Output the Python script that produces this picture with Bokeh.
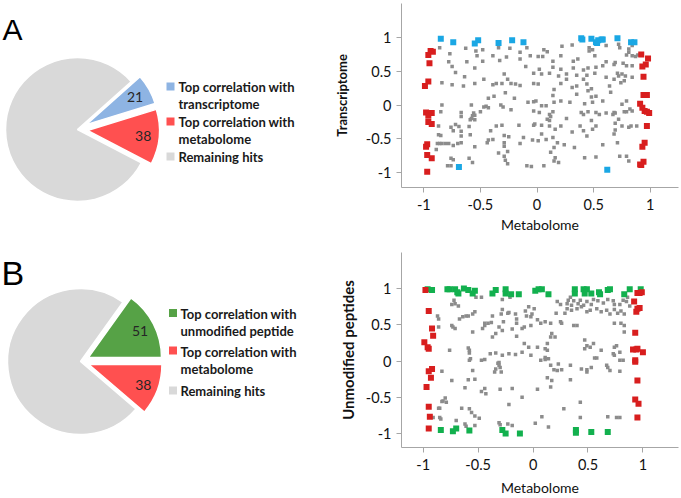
import math
from bokeh.plotting import figure
from bokeh.layouts import row, column
from bokeh.models import Range1d, FixedTicker
from bokeh.core.properties import value
from bokeh.embed import file_html
from bokeh.resources import INLINE

# ---------------- data ----------------
pie_a_values = [21, 38, 248]
pie_a_colors = ["#8EB4E3", "#FF5050", "#D9D9D9"]
pie_a_legend = [["Top correlation with", "transcriptome"],
                ["Top correlation with", "metabolome"],
                ["Remaining hits"]]

pie_b_values = [51, 38, 248]
pie_b_colors = ["#56A246", "#FF5050", "#D9D9D9"]
pie_b_legend = [["Top correlation with", "unmodified peptide"],
                ["Top correlation with", "metabolome"],
                ["Remaining hits"]]

tick_values = [-1, -0.5, 0, 0.5, 1]
tick_labels = ["-1", "-0.5", "0", "0.5", "1"]

# Panel A scatter: metabolome (x) vs transcriptome (y)
a_gray = [
    (-0.86, 0.85), (-0.77, 0.76), (-0.63, 0.84), (-0.54, 0.80), (-0.48, 0.82), (-0.34, 0.85), (-0.24, 0.84),
    (-0.09, 0.85), (-0.53, 0.73), (-0.39, 0.73), (-0.27, 0.71), (-0.15, 0.78), (-0.06, 0.73),
    (-0.78, 0.64), (-0.62, 0.64), (-0.48, 0.65), (-0.33, 0.66), (-0.15, 0.68), (-0.75, 0.57), (-0.55, 0.55),
    (-0.72, 0.48), (-0.29, 0.46), (-0.10, 0.57), (-0.03, 0.47), (-0.64, 0.42), (-0.26, 0.38), (-0.47, 0.38),
    (-0.84, 0.33), (-0.75, 0.30), (-0.65, 0.28), (-0.55, 0.32), (-0.39, 0.30), (-0.36, 0.32), (-0.31, 0.32),
    (-0.23, 0.32), (-0.19, 0.31), (-0.15, 0.29), (-0.03, 0.32),
    (-0.28, 0.18), (-0.43, 0.10), (-0.38, 0.13), (-0.20, 0.10), (-0.08, 0.04), (-0.03, 0.05),
    (-0.84, 0.00), (-0.58, 0.00), (-0.47, -0.03), (-0.45, -0.02), (-0.43, -0.04), (-0.50, -0.10), (-0.32, 0.00),
    (-0.30, -0.03), (-0.23, -0.07), (-0.85, -0.10), (-0.67, -0.11), (-0.67, -0.17), (-0.56, -0.12), (-0.57, -0.16),
    (-0.58, -0.20), (-0.59, -0.22), (-0.55, -0.15), (-0.03, -0.09),
    (-0.87, -0.31), (-0.76, -0.33), (-0.72, -0.29), (-0.69, -0.32), (-0.74, -0.38), (-0.67, -0.39), (-0.60, -0.32),
    (-0.55, -0.22), (-0.41, -0.38), (-0.36, -0.31), (-0.31, -0.30), (-0.16, -0.30), (-0.03, -0.30), (-0.67, -0.46),
    (-0.59, -0.44), (-0.87, -0.44), (-0.85, -0.45), (-0.43, -0.52), (-0.39, -0.51), (-0.29, -0.45), (-0.25, -0.47),
    (-0.12, -0.48), (-0.04, -0.52), (-0.44, -0.56), (-0.29, -0.56), (-0.29, -0.61), (-0.15, -0.57), (-0.88, -0.57),
    (-0.86, -0.57), (-0.84, -0.57), (-0.81, -0.57), (-0.78, -0.57), (-0.74, -0.60), (-0.70, -0.57), (-0.67, -0.56),
    (-0.55, -0.62), (-0.89, -0.66), (-0.34, -0.71), (-0.26, -0.69), (-0.76, -0.79), (-0.74, -0.81), (-0.60, -0.79),
    (-0.57, -0.85), (-0.29, -0.76), (-0.28, -0.82), (-0.26, -0.87), (-0.79, -0.90), (-0.76, -0.90), (-0.09, -0.90),
    (-0.05, -0.91),
    (0.06, 0.82), (0.09, 0.79), (0.22, 0.87), (0.31, 0.89), (0.46, 0.85), (0.49, 0.82), (0.46, 0.80), (0.51, 0.73),
    (0.61, 0.88), (0.72, 0.90), (0.73, 0.85), (0.81, 0.83), (0.84, 0.88), (0.81, 0.78), (0.69, 0.63), (0.79, 0.74),
    (0.84, 0.73), (0.87, 0.72), (0.89, 0.74), (0.01, 0.72), (0.05, 0.72), (0.14, 0.65), (0.21, 0.73), (0.32, 0.65),
    (0.36, 0.68), (0.61, 0.64), (0.68, 0.60), (0.76, 0.62), (0.79, 0.58), (0.84, 0.58),
    (0.02, 0.53), (0.14, 0.56), (0.21, 0.53), (0.32, 0.55), (0.41, 0.52), (0.45, 0.55), (0.52, 0.56), (0.58, 0.58),
    (0.04, 0.46), (0.11, 0.47), (0.19, 0.43), (0.26, 0.46), (0.35, 0.44), (0.44, 0.44), (0.51, 0.47), (0.61, 0.41),
    (0.71, 0.47), (0.72, 0.43), (0.75, 0.46), (0.78, 0.43), (0.84, 0.41), (0.68, 0.38),
    (0.01, 0.31), (0.15, 0.23), (0.21, 0.32), (0.26, 0.38), (0.31, 0.26), (0.35, 0.28), (0.41, 0.38), (0.44, 0.31),
    (0.45, 0.21), (0.48, 0.24), (0.52, 0.13), (0.64, 0.28), (0.65, 0.19), (0.74, 0.33), (0.77, 0.36),
    (-0.01, 0.06), (0.04, -0.01), (0.08, -0.01), (0.14, 0.14), (0.15, 0.04), (0.21, 0.06), (0.29, 0.04), (0.35, 0.16),
    (0.42, 0.02), (0.48, 0.12), (0.49, 0.04), (0.58, 0.06), (0.75, 0.01), (0.79, 0.06), (0.84, -0.09), (0.14, -0.10),
    (0.11, -0.14), (0.12, -0.17), (0.09, -0.21), (0.11, -0.23), (0.02, -0.11), (0.39, -0.11), (0.41, -0.14),
    (0.45, -0.10), (0.48, -0.23), (0.52, -0.11), (0.55, -0.14), (0.61, -0.12), (0.67, -0.14), (0.68, -0.11),
    (0.69, -0.12), (0.72, -0.21), (0.77, -0.10), (0.79, -0.10), (0.82, -0.06), (0.26, -0.20),
    (-0.02, -0.28), (0.04, -0.30), (0.11, -0.31), (0.16, -0.36), (0.21, -0.31), (0.31, -0.40), (0.38, -0.31),
    (0.41, -0.38), (0.44, -0.46), (0.49, -0.36), (0.52, -0.31), (0.69, -0.27), (0.69, -0.37), (0.68, -0.43),
    (0.75, -0.31), (0.81, -0.33), (0.83, -0.31), (0.88, -0.31), (0.04, -0.43), (0.14, -0.48), (0.18, -0.56),
    (0.08, -0.51), (0.01, -0.53), (0.12, -0.70), (0.15, -0.63), (0.24, -0.59), (0.33, -0.63), (0.16, -0.78),
    (0.19, -0.85), (0.15, -0.83), (0.42, -0.78), (0.52, -0.77), (0.58, -0.59), (0.71, -0.56), (0.73, -0.76),
    (0.79, -0.76), (0.81, -0.83), (0.06, -0.90),
]
a_blue = [
    (-0.85, 0.98), (-0.74, 0.93), (-0.55, 0.91), (-0.52, 0.96), (-0.34, 0.92), (-0.22, 0.96), (-0.12, 0.93),
    (-0.69, -0.92), (0.39, 0.99), (0.40, 0.97), (0.48, 0.98), (0.52, 0.93), (0.54, 0.96), (0.57, 0.97),
    (0.58, 0.97), (0.53, 0.92), (0.71, 0.99), (0.83, 0.93), (0.86, 0.93), (0.62, -0.96),
]
a_red = [
    (-0.94, 0.80), (-0.92, 0.79), (-0.96, 0.74), (-0.95, 0.62), (-0.96, 0.35), (-0.99, 0.28), (-0.98, -0.11),
    (-0.93, -0.12), (-0.96, -0.16), (-0.96, -0.25), (-0.93, -0.28), (-0.97, -0.58), (-0.98, -0.62),
    (-0.97, -0.74), (-0.93, -0.79), (-0.97, -0.99),
    (0.92, 0.75), (0.98, 0.69), (0.96, 0.60), (0.93, 0.57), (0.94, 0.42), (0.94, 0.15), (0.97, 0.15),
    (0.91, 0.02), (0.93, -0.04), (0.95, -0.09), (0.97, -0.10), (0.99, -0.12), (0.97, -0.31), (0.95, -0.56),
    (0.93, -0.62), (0.94, -0.84), (0.92, -0.89), (0.91, -0.88),
]

# Panel B scatter: metabolome (x) vs unmodified peptides (y)
b_gray = [
    (-0.72, 0.84), (-0.71, 0.79), (-0.68, 0.76), (-0.74, 0.78), (-0.52, 0.88), (-0.47, 0.88), (-0.28, 0.85),
    (-0.21, 0.88), (-0.87, 0.62), (-0.86, 0.58), (-0.67, 0.58), (-0.64, 0.61), (-0.61, 0.62), (-0.59, 0.62),
    (-0.55, 0.65), (-0.53, 0.68), (-0.44, 0.52), (-0.41, 0.52), (-0.38, 0.53), (-0.37, 0.62), (-0.29, 0.65),
    (-0.28, 0.71), (-0.23, 0.66), (-0.22, 0.67), (-0.16, 0.65), (-0.15, 0.58), (-0.15, 0.52), (-0.07, 0.69),
    (-0.06, 0.62), (-0.86, 0.47), (-0.74, 0.49), (-0.73, 0.47), (-0.71, 0.45), (-0.55, 0.40), (-0.46, 0.45),
    (-0.44, 0.49), (-0.34, 0.38), (-0.37, 0.33), (-0.31, 0.47), (-0.28, 0.42), (-0.27, 0.54), (-0.19, 0.44),
    (-0.15, 0.34), (-0.10, 0.45), (-0.08, 0.47), (-0.76, 0.15), (-0.59, 0.18), (-0.58, 0.15), (-0.58, 0.11),
    (-0.58, 0.01), (-0.57, 0.03), (-0.55, -0.13), (-0.47, 0.01), (-0.44, 0.02), (-0.39, 0.10), (-0.34, 0.11),
    (-0.31, -0.02), (-0.28, 0.08), (-0.22, 0.10), (-0.16, 0.09), (-0.10, 0.12), (-0.08, 0.24), (-0.32, -0.03),
    (-0.31, -0.06), (-0.30, -0.09), (-0.34, -0.11), (-0.35, -0.15), (-0.29, -0.15), (-0.83, -0.14),
    (-0.74, -0.27), (-0.59, -0.26), (-0.53, -0.25), (-0.62, -0.37), (-0.47, -0.42), (-0.44, -0.38),
    (-0.43, -0.45), (-0.30, -0.39), (-0.19, -0.38), (-0.10, -0.50), (-0.22, -0.60), (-0.80, -0.51),
    (-0.82, -0.55), (-0.83, -0.56), (-0.79, -0.57), (-0.86, -0.65), (-0.85, -0.65), (-0.65, -0.65),
    (-0.58, -0.66), (-0.56, -0.71), (-0.53, -0.76), (-0.49, -0.79), (-0.91, -0.78), (-0.85, -0.78),
    (-0.84, -0.80), (-0.70, -0.82), (-0.62, -0.87), (-0.61, -0.90), (-0.53, -0.89), (-0.31, -0.85),
    (-0.30, -0.88), (-0.23, -0.87), (-0.19, -0.89),
    (0.22, 0.82), (0.25, 0.78), (0.32, 0.84), (0.34, 0.88), (0.37, 0.83), (0.31, 0.79), (0.35, 0.77), (0.41, 0.79),
    (0.43, 0.84), (0.46, 0.77), (0.49, 0.82), (0.53, 0.78), (0.55, 0.85), (0.59, 0.83), (0.64, 0.80), (0.68, 0.85),
    (0.73, 0.83), (0.74, 0.78), (0.79, 0.78), (0.82, 0.84), (0.85, 0.82), (0.86, 0.88), (0.88, 0.76), (0.31, 0.72),
    (0.35, 0.70), (0.40, 0.72), (0.44, 0.75), (0.49, 0.68), (0.52, 0.70), (0.58, 0.72), (0.62, 0.68), (0.67, 0.70),
    (0.70, 0.65), (0.74, 0.71), (0.77, 0.66), (0.80, 0.69), (0.83, 0.65), (-0.04, 0.75), (-0.01, 0.65),
    (0.01, 0.72), (-0.02, 0.61), (0.21, 0.66), (0.29, 0.66), (0.26, 0.52), (0.04, 0.57), (0.07, 0.52),
    (0.11, 0.54), (0.16, 0.52), (0.25, 0.54), (0.37, 0.49), (0.40, 0.49), (0.74, 0.52), (0.80, 0.52),
    (0.83, 0.49), (0.83, 0.40), (-0.02, 0.49), (0.17, 0.38), (0.16, 0.33), (0.20, 0.33), (0.13, 0.24),
    (0.11, 0.17), (0.13, 0.15), (0.07, 0.01), (0.11, 0.05), (0.11, 0.02), (0.14, 0.03), (-0.04, 0.19),
    (-0.02, 0.08), (0.04, 0.19), (0.47, 0.29), (0.49, 0.21), (0.52, 0.19), (0.47, 0.17), (0.55, 0.24),
    (0.62, 0.15), (0.56, 0.04), (0.58, 0.04), (0.74, 0.19), (0.76, 0.21), (0.73, 0.10), (0.74, 0.08),
    (0.79, 0.12), (0.79, 0.01), (0.82, 0.01), (0.16, -0.06), (0.19, -0.12), (0.22, -0.13), (0.23, -0.04),
    (0.26, -0.12), (0.34, -0.06), (0.44, -0.11), (0.49, -0.12), (0.49, -0.15), (0.53, -0.09), (0.67, -0.06),
    (0.68, -0.09), (0.70, -0.13), (0.79, -0.14), (0.13, -0.23), (0.17, -0.27), (0.34, -0.26), (0.04, -0.39),
    (0.16, -0.36), (0.43, -0.57), (0.28, -0.66), (0.08, -0.77), (0.43, -0.78), (0.68, -0.77), (0.76, -0.78),
    (0.79, -0.78), (0.02, -0.86), (0.14, -0.91),
]
b_green = [
    (-0.96, 0.99), (-0.92, 0.98), (-0.78, 0.99), (-0.76, 0.99), (-0.71, 0.99), (-0.69, 0.95), (-0.68, 0.93),
    (-0.63, 1.00), (-0.59, 0.98), (-0.55, 0.93), (-0.53, 0.97), (-0.37, 0.93), (-0.34, 0.98), (-0.25, 0.99),
    (-0.25, 0.93), (-0.20, 0.92), (-0.13, 0.92), (0.02, 0.97), (0.05, 0.99), (0.08, 0.99), (0.14, 0.92),
    (0.38, 0.99), (0.38, 0.93), (0.46, 0.99), (0.49, 0.99), (0.47, 0.93), (0.53, 0.93), (0.60, 0.95),
    (0.61, 0.92), (0.68, 0.98), (0.70, 0.99), (0.83, 0.92), (0.88, 0.99), (0.98, 0.99),
    (-0.84, -0.95), (-0.73, -0.97), (-0.70, -0.93), (-0.58, -0.96), (-0.28, -0.95), (-0.25, -1.00),
    (-0.12, -1.00), (0.39, -0.95), (0.39, -0.99), (0.53, -0.98), (0.68, -0.98),
]
b_red = [
    (-0.98, 0.98), (-0.95, 0.69), (-0.92, 0.45), (-0.91, 0.35), (-0.99, 0.26), (-0.96, 0.19), (-0.95, 0.17),
    (-0.95, -0.14), (-0.92, -0.11), (-0.93, -0.23), (-0.97, -0.36), (-0.95, -0.63), (-0.94, -0.77),
    (-0.95, -0.93),
    (0.95, 0.94), (0.97, 0.94), (0.99, 0.95), (0.92, 0.82), (0.94, 0.68), (0.95, 0.72), (0.97, 0.73),
    (0.93, 0.39), (0.91, 0.16), (0.94, 0.16), (0.95, 0.17), (1.00, 0.12), (0.93, 0.01), (0.93, -0.01),
    (0.95, -0.27), (0.93, -0.53), (0.96, -0.59), (0.95, -0.78),
]

FONT = "Lato"


def xs(pts):
    return [p[0] for p in pts]


def ys(pts):
    return [p[1] for p in pts]


def make_pie(width, height, top, vals, colors, legend, boundary, center, radius, explode,
             label_r, sq_x, sq_ys, text_x, line_ys, letter, letter_xy, letter_size):
    # data x = page pixel column, data y = -(page pixel row)
    p = figure(width=width, height=height,
               x_range=Range1d(0, width), y_range=Range1d(-(top + height), -top),
               output_backend="svg", toolbar_location=None, min_border=0,
               x_axis_location=None, y_axis_location=None)
    p.grid.visible = False
    p.outline_line_color = None
    total = sum(vals)
    a1 = vals[0] / total * 360.0
    a2 = vals[1] / total * 360.0
    spans = [(boundary, boundary + a1), (boundary - a2, boundary), (boundary + a1, boundary - a2 + 360.0)]
    cx, cy = center
    for i in [2, 0, 1]:
        s, e = spans[i]
        mid = math.radians((s + e) / 2.0)
        d = explode if i < 2 else 0
        p.wedge(x=[cx + d * math.cos(mid)], y=[cy + d * math.sin(mid)], radius=radius,
                start_angle=math.radians(s), end_angle=math.radians(e),
                fill_color=colors[i], line_color="white", line_width=1.5)
    for i in range(2):
        s, e = spans[i]
        mid = math.radians((s + e) / 2.0)
        p.text(x=[cx + label_r * math.cos(mid)], y=[cy + label_r * math.sin(mid)], text=[str(vals[i])],
               text_font=value(FONT), text_font_size="14px", text_align="center",
               text_baseline="middle", text_color="#262626")
    # legend
    p.rect(x=[sq_x] * 3, y=[-v for v in sq_ys], width=8, height=8, fill_color=colors,
           line_color=None)
    k = 0
    lx, ly, lt = [], [], []
    for item in legend:
        for line in item:
            lx.append(text_x)
            ly.append(-line_ys[k])
            lt.append(line)
            k += 1
    p.text(x=lx, y=ly, text=lt, text_font=value(FONT), text_font_size="13px",
           text_font_style="bold", text_baseline="middle", text_color="#1a1a1a")
    p.text(x=[letter_xy[0]], y=[-letter_xy[1]], text=[letter], text_font=value("Liberation Sans"),
           text_font_size=letter_size, text_baseline="alphabetic", text_color="#000000")
    return p


def make_scatter(height, xr, yr, borders, ylabel, ylabel_size, ylabel_standoff, xlabel_standoff,
                 gray, colored):
    left, right, top, bottom = borders
    p = figure(width=351, height=height, x_range=Range1d(*xr), y_range=Range1d(*yr),
               output_backend="svg", toolbar_location=None,
               min_border_left=left, min_border_right=right,
               min_border_top=top, min_border_bottom=bottom)
    p.grid.visible = False
    p.outline_line_color = None
    for ax in (p.xaxis[0], p.yaxis[0]):
        ax.ticker = FixedTicker(ticks=tick_values)
        ax.major_label_overrides = dict(zip(tick_values, tick_labels))
        ax.axis_line_color = "#A6A6A6"
        ax.major_tick_line_color = "#A6A6A6"
        ax.major_tick_out = 5
        ax.major_tick_in = 0
        ax.minor_tick_line_color = None
        ax.major_label_text_font = FONT
        ax.major_label_text_font_size = "14.5px"
        ax.major_label_text_color = "#111111"
        ax.axis_label_text_font = FONT
        ax.axis_label_text_color = "#111111"
    p.xaxis.axis_label = "Metabolome"
    p.xaxis.axis_label_text_font_size = "14px"
    p.xaxis.axis_label_text_font_style = "normal"
    p.xaxis.major_label_standoff = 6
    p.xaxis.axis_label_standoff = xlabel_standoff
    p.yaxis.axis_label = ylabel
    p.yaxis.axis_label_text_font_size = ylabel_size
    p.yaxis.axis_label_text_font_style = "bold"
    p.yaxis.axis_label_standoff = ylabel_standoff
    p.scatter(xs(gray), ys(gray), marker="square", size=3.5, fill_color="#8C8C8C", line_color=None)
    for pts, col in colored:
        p.scatter(xs(pts), ys(pts), marker="square", size=6, fill_color=col, line_color=None)
    return p


pie_a = make_pie(330, 245, 0, pie_a_values, pie_a_colors, pie_a_legend, 17.0, (77, -129), 72, 10, 66,
                 170, [86, 121, 156], 178, [86, 103, 121, 138, 156], "A", (2, 29), "30px")
pie_b = make_pie(330, 253, 245, pie_b_values, pie_b_colors, pie_b_legend, 0.0, (80, -361), 73, 9, 67,
                 172.5, [312.5, 350, 390], 180, [313, 330, 351, 368, 390], "B", (1, 272), "34px")

scat_a = make_scatter(250, (-1.197, 1.249), (-1.222, 1.504), (63, 3, 3, 63), "Transcriptome", "13px", 13, 3,
                      a_gray, [(a_blue, "#1AA7E4"), (a_red, "#D81E1E")])
scat_b = make_scatter(248, (-1.198, 1.324), (-1.193, 1.497), (68, 3, 2, 51), "Unmodified peptides", "15px", 6, 6,
                      b_gray, [(b_green, "#12B04E"), (b_red, "#D81E1E")])

layout = row(column(pie_a, pie_b), column(scat_a, scat_b))

open("out.html", "w").write(file_html(layout, INLINE))
